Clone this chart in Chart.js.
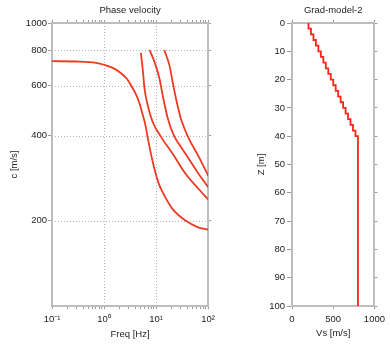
<!DOCTYPE html>
<html>
<head>
<meta charset="utf-8">
<script src="https://cdn.jsdelivr.net/npm/chart.js@4"></script>
<style>
  html, body { margin: 0; padding: 0; background: #fff; }
  #phase { position: absolute; left: 0; top: 0; }
  #model { position: absolute; left: 230px; top: 0; }
</style>
</head>
<body>
<canvas id="phase" width="220" height="346"></canvas>
<canvas id="model" width="160" height="346"></canvas>
<script>
// dispersion curves
const mode0Freq = [0.1, 0.3, 0.7, 1, 1.5, 2, 2.7, 3.3, 4.0, 4.7, 5.5, 6.3, 6.8, 8.1, 9.6, 11.3, 13.4, 20.8, 37.5, 62.5, 100];
const mode0Vel  = [733, 731, 723, 712, 693, 670, 638, 602, 565, 526, 476, 432, 400, 340, 298, 270, 252, 220, 200, 190, 186];
const mode1Freq = [5.1, 5.6, 6.0, 6.9, 8.6, 12, 20.8, 37.5, 67, 100];
const mode1Vel  = [785, 672, 586, 512, 447, 400, 345, 292, 258, 238];
const mode2Freq = [7.5, 9.3, 11.6, 13.4, 16.7, 22, 28, 37.5, 62.5, 100];
const mode2Vel  = [802, 729, 637, 555, 462, 400, 372, 343, 297, 263];
const mode3Freq = [14.4, 18, 20.8, 24.1, 30, 40, 67, 100];
const mode3Vel  = [802, 710, 619, 541, 459, 400, 335, 289];

// velocity model: layer tops [m] and Vs [m/s], half-space from 40 m
const layerTop = [0, 2, 4, 6, 8, 10, 12, 14, 16, 18, 20, 22, 24, 26, 28, 30, 32, 34, 36, 38, 40];
const layerVs  = [200, 230, 260, 290, 320, 350, 380, 410, 440, 470, 500, 530, 560, 590, 620, 650, 680, 710, 740, 770, 800];
const modelBottom = 100;

// ticks
const freqTicks = [0.1, 1, 10, 100];
const freqTickLabels = ['10⁻¹', '10⁰', '10¹', '10²'];
const velTicks = [200, 400, 600, 800, 1000];
const depthTicks = [0, 10, 20, 30, 40, 50, 60, 70, 80, 90, 100];
const vsTicks = [0, 500, 1000];

const FONT = { family: '"Liberation Sans", Arial, sans-serif', size: 9.5 };
const TXT = '#222';
const AXIS = '#bdbdbd';
const TICK = '#9a9a9a';

// minor log ticks for the freq axis
const freqAll = [];
for (let d = 0.1; d < 100; d *= 10) {
  for (let m = 1; m < 10; m++) freqAll.push(+(m * d).toPrecision(3));
}
freqAll.push(100);

const pts = (xs, ys) => xs.map((x, i) => ({ x: x, y: ys[i] }));

const modeStyle = {
  borderColor: '#ee3a22',
  borderWidth: 1.8,
  pointRadius: 0,
  showLine: true,
  fill: false,
  cubicInterpolationMode: 'monotone'
};

const freqLabel = v => {
  const i = freqTicks.findIndex(t => Math.abs(t - v) < 1e-9);
  return i >= 0 ? freqTickLabels[i] : '';
};

// dotted grid lines inside the plot, placed through the scales
const dottedGrid = {
  id: 'dottedGrid',
  beforeDatasetsDraw(chart, args, opts) {
    const { ctx, chartArea: a, scales } = chart;
    ctx.save();
    ctx.strokeStyle = '#b5b5b5';
    ctx.lineWidth = 1;
    ctx.setLineDash([1, 2]);
    opts.x.forEach(v => {
      const p = Math.round(scales.x.getPixelForValue(v)) + 0.5;
      ctx.beginPath(); ctx.moveTo(p, a.top); ctx.lineTo(p, a.bottom); ctx.stroke();
    });
    opts.y.forEach(v => {
      const p = Math.round(scales.y.getPixelForValue(v)) + 0.5;
      ctx.beginPath(); ctx.moveTo(a.left, p); ctx.lineTo(a.right, p); ctx.stroke();
    });
    ctx.restore();
  }
};

new Chart(document.getElementById('phase'), {
  type: 'scatter',
  plugins: [dottedGrid],
  data: {
    datasets: [
      Object.assign({ data: pts(mode0Freq, mode0Vel) }, modeStyle),
      Object.assign({ data: pts(mode1Freq, mode1Vel) }, modeStyle),
      Object.assign({ data: pts(mode2Freq, mode2Vel) }, modeStyle),
      Object.assign({ data: pts(mode3Freq, mode3Vel) }, modeStyle)
    ]
  },
  options: {
    responsive: false,
    animation: false,
    layout: { padding: 0 },
    plugins: {
      legend: { display: false },
      tooltip: { enabled: false },
      dottedGrid: { x: [1, 10], y: [200, 400, 600, 800] }
    },
    scales: {
      x: {
        type: 'logarithmic', position: 'bottom', min: 0.1, max: 100,
        afterBuildTicks: s => { s.ticks = freqAll.map(v => ({ value: v })); },
        afterFit: s => { s.height = 40; },
        ticks: { autoSkip: false, maxRotation: 0, padding: 5, color: TXT, font: FONT, callback: freqLabel },
        grid: { drawOnChartArea: false, color: TICK, tickLength: 3 },
        border: { color: AXIS, width: 2 },
        title: { display: true, text: 'Freq [Hz]', color: TXT, font: FONT, padding: { top: 0, bottom: 6 } }
      },
      x2: {
        type: 'logarithmic', position: 'top', min: 0.1, max: 100,
        afterBuildTicks: s => { s.ticks = freqAll.map(v => ({ value: v })); },
        afterFit: s => { s.height = 23; },
        ticks: { display: false },
        grid: { drawOnChartArea: false, color: TICK, tickLength: 3 },
        border: { color: AXIS, width: 2 },
        title: { display: true, text: 'Phase velocity', color: TXT, font: FONT, padding: { top: 5, bottom: 0 } }
      },
      y: {
        type: 'logarithmic', position: 'left', min: 100, max: 1000,
        afterBuildTicks: s => { s.ticks = velTicks.map(v => ({ value: v })); },
        afterFit: s => { s.width = 52; },
        ticks: { autoSkip: false, padding: 1, color: TXT, font: FONT, callback: v => velTicks.includes(v) ? String(v) : '' },
        grid: { drawOnChartArea: false, color: TICK, tickLength: 4 },
        border: { color: AXIS, width: 2 },
        title: { display: true, text: 'c [m/s]', color: TXT, font: FONT, padding: { top: 9, bottom: 0 } }
      },
      y2: {
        type: 'logarithmic', position: 'right', min: 100, max: 1000,
        afterBuildTicks: s => { s.ticks = velTicks.map(v => ({ value: v })); },
        afterFit: s => { s.width = 11; },
        ticks: { display: false },
        grid: { drawOnChartArea: false, color: TICK, tickLength: 3 },
        border: { color: AXIS, width: 2 }
      }
    }
  }
});

// stair-step profile built from the layer arrays
const profile = [];
layerTop.forEach((top, i) => {
  const bottom = i + 1 < layerTop.length ? layerTop[i + 1] : modelBottom;
  profile.push({ x: layerVs[i], y: top });
  profile.push({ x: layerVs[i], y: bottom });
});

new Chart(document.getElementById('model'), {
  type: 'scatter',
  data: {
    datasets: [{
      data: profile,
      borderColor: '#ff2418',
      borderWidth: 1.8,
      pointRadius: 0,
      showLine: true,
      fill: false,
      tension: 0
    }]
  },
  options: {
    responsive: false,
    animation: false,
    layout: { padding: 0 },
    plugins: { legend: { display: false }, tooltip: { enabled: false } },
    scales: {
      x: {
        type: 'linear', position: 'bottom', min: 0, max: 1000,
        afterBuildTicks: s => { s.ticks = vsTicks.map(v => ({ value: v })); },
        afterFit: s => { s.height = 40; },
        ticks: { autoSkip: false, maxRotation: 0, padding: 5, color: TXT, font: FONT, callback: v => String(v) },
        grid: { drawOnChartArea: false, color: TICK, tickLength: 3 },
        border: { color: AXIS, width: 2 },
        title: { display: true, text: 'Vs [m/s]', color: TXT, font: FONT, padding: { top: 0, bottom: 7 } }
      },
      x2: {
        type: 'linear', position: 'top', min: 0, max: 1000,
        afterBuildTicks: s => { s.ticks = vsTicks.map(v => ({ value: v })); },
        afterFit: s => { s.height = 23; },
        ticks: { display: false },
        grid: { drawOnChartArea: false, color: TICK, tickLength: 3 },
        border: { color: AXIS, width: 2 },
        title: { display: true, text: 'Grad-model-2', color: TXT, font: FONT, padding: { top: 5, bottom: 0 } }
      },
      y: {
        type: 'linear', position: 'left', min: 0, max: 100, reverse: true,
        afterBuildTicks: s => { s.ticks = depthTicks.map(v => ({ value: v })); },
        afterFit: s => { s.width = 62; },
        ticks: { autoSkip: false, padding: 2, color: TXT, font: FONT, callback: v => String(v) },
        grid: { drawOnChartArea: false, color: TICK, tickLength: 5 },
        border: { color: AXIS, width: 2 },
        title: { display: true, text: 'Z [m]', color: TXT, font: FONT, padding: { top: 26, bottom: 0 } }
      },
      y2: {
        type: 'linear', position: 'right', min: 0, max: 100, reverse: true,
        afterBuildTicks: s => { s.ticks = depthTicks.map(v => ({ value: v })); },
        afterFit: s => { s.width = 13; },
        ticks: { display: false },
        grid: { drawOnChartArea: false, color: TICK, tickLength: 3 },
        border: { color: AXIS, width: 2 }
      }
    }
  }
});
</script>
</body>
</html>
